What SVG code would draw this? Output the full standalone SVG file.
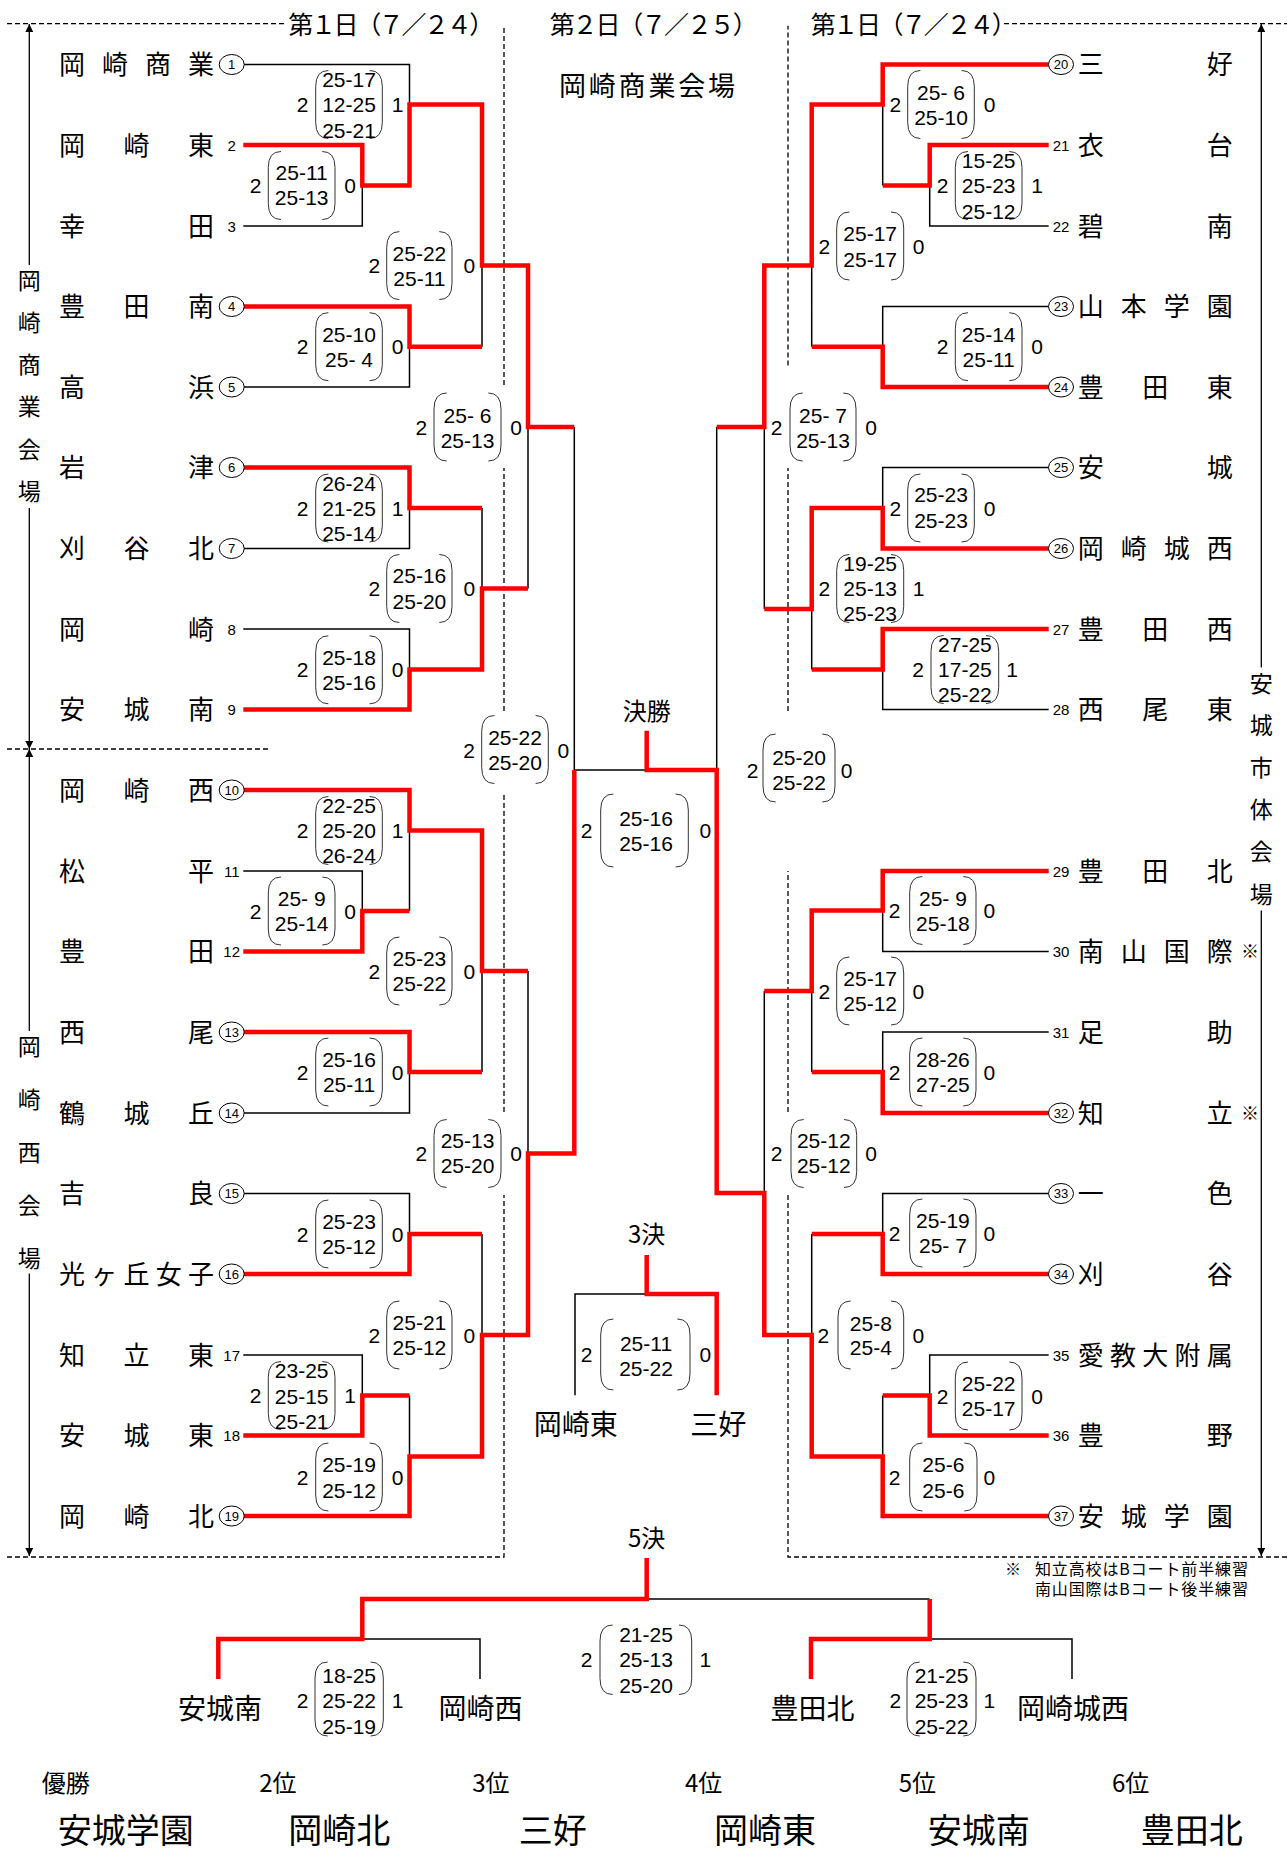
<svg xmlns="http://www.w3.org/2000/svg" width="1287" height="1856" viewBox="0 0 1287 1856">
<defs>
<style>
.bk{fill:none;stroke:#000;stroke-width:1.5}
.rd{fill:none;stroke:#ff0000;stroke-width:4.5;stroke-linejoin:miter}
.ds{fill:none;stroke:#000;stroke-width:1.3;stroke-dasharray:5 3}
.ax{fill:none;stroke:#000;stroke-width:1.3}
.pr{fill:none;stroke:#333;stroke-width:1}
.jp{font-family:"Noto Sans CJK JP","Noto Sans CJK SC",sans-serif;fill:#000}
.nm{font-size:26px;dominant-baseline:central}
.vt{font-size:23px;text-anchor:middle;dominant-baseline:central}
.ti{font-size:25px;dominant-baseline:central}
.lb{font-size:24px;text-anchor:middle;dominant-baseline:central}
.fn{font-size:28px;text-anchor:middle;dominant-baseline:central}
.pl{font-size:24px;dominant-baseline:central}
.wn{font-size:34px;text-anchor:middle;dominant-baseline:central}
.nt{font-size:16px;dominant-baseline:central}
.st{font-family:"Liberation Sans",Arial,sans-serif;font-size:21px;text-anchor:middle;dominant-baseline:central;fill:#000}
.sd{font-family:"Liberation Sans",Arial,sans-serif;font-size:15px;text-anchor:middle;dominant-baseline:central;fill:#000}
.sc{font-size:13px}
.ov{fill:#fff;stroke:#000;stroke-width:1}
</style>
<marker id="ah" viewBox="0 0 10 10" refX="10" refY="5" markerWidth="9" markerHeight="8" markerUnits="userSpaceOnUse" orient="auto"><path d="M0,0 L10,5 L0,10 z" fill="#000"/></marker>
</defs>
<rect width="1287" height="1856" fill="#fff"/>

<g id="frame">
<path class="ds" d="M7,23.7 H287 M1004,23.7 H1287 M7,749 H268 M7,1557 H504 V1195 M504,1112 V792 M504,711 V468 M504,385 V25.7 M1287,1557 H788 V1195 M788,1112 V871 M788,711 V468 M788,365.6 V25.7"/>
<path class="ax" d="M29.3,265 V24" marker-end="url(#ah)"/>
<path class="ax" d="M29.3,508 V749" marker-end="url(#ah)"/>
<path class="ax" d="M29.3,1031 V749" marker-end="url(#ah)"/>
<path class="ax" d="M29.3,1273.6 V1556" marker-end="url(#ah)"/>
<path class="ax" d="M1261.3,667.4 V24" marker-end="url(#ah)"/>
<path class="ax" d="M1261.3,910.5 V1556" marker-end="url(#ah)"/>
<text class="jp vt"><tspan x="29.3" y="279.1">岡</tspan><tspan x="29.3" y="321.2">崎</tspan><tspan x="29.3" y="363.3">商</tspan><tspan x="29.3" y="405.4">業</tspan><tspan x="29.3" y="447.5">会</tspan><tspan x="29.3" y="489.6">場</tspan></text>
<text class="jp vt"><tspan x="29.3" y="1044.5">岡</tspan><tspan x="29.3" y="1097.7">崎</tspan><tspan x="29.3" y="1150.9">西</tspan><tspan x="29.3" y="1204.1">会</tspan><tspan x="29.3" y="1257.3">場</tspan></text>
<text class="jp vt"><tspan x="1261.3" y="681.5">安</tspan><tspan x="1261.3" y="723.7">城</tspan><tspan x="1261.3" y="765.9">市</tspan><tspan x="1261.3" y="808.1">体</tspan><tspan x="1261.3" y="850.3">会</tspan><tspan x="1261.3" y="892.5">場</tspan></text>
<text class="jp ti" x="288.3" y="22.7" textLength="206" lengthAdjust="spacing">第１日（７／２４）</text>
<text class="jp ti" x="549.7" y="22.7" textLength="208" lengthAdjust="spacing">第２日（７／２５）</text>
<text class="jp ti" x="810.7" y="22.7" textLength="206" lengthAdjust="spacing">第１日（７／２４）</text>
<text class="jp ti" x="559" y="84" style="font-size:27px" textLength="176" lengthAdjust="spacing">岡崎商業会場</text>
<text class="jp lb" x="646.7" y="709">決勝</text>
<text class="jp lb" x="646.7" y="1232">3決</text>
<text class="jp lb" x="646.7" y="1536.5">5決</text>
<text class="jp nt" x="1005" y="1568">※</text>
<text class="jp nt" x="1035" y="1568" textLength="213" lengthAdjust="spacing">知立高校はBコート前半練習</text>
<text class="jp nt" x="1035" y="1587.6" textLength="213" lengthAdjust="spacing">南山国際はBコート後半練習</text>
</g>

<g id="connectors">
<path class="bk" d="M243.3,226 H362.3 V185.5 M243.3,64.5 H409.5 V104.5 M243.3,387 H409.5 V346.7 M482,265.5 V346.7 M243.3,548.5 H409.5 V508 M243.3,629 H409.5 V669.5 M482,508 V588.5 M528,427 V588.5 M574.3,427 V770 H646.7 M243.3,871 H362.3 V911 M409.5,911 V830.5 M243.3,1113 H409.5 V1072 M482,1072 V971 M243.3,1193.5 H409.5 V1234 M243.3,1355 H362.3 V1395.5 M409.5,1395.5 V1456.5 M482,1234 V1335 M528,971 V1153.5"/>
<path class="bk" d="M1048.7,226 H929.7 V185.5 M882.7,185.5 V104.5 M1048.7,306.5 H882.7 V346.7 M811.7,265.5 V346.7 M1048.7,467.5 H882.7 V508 M1048.7,709.5 H882.7 V669.5 M811.7,609 V669.5 M764.3,427 V609 M716.7,427 V770 M1048.7,951.5 H882.7 V910.5 M1048.7,1032 H882.7 V1072 M811.7,1072 V991 M1048.7,1193.5 H882.7 V1234 M1048.7,1355 H929.7 V1395.5 M882.7,1395.5 V1456.5 M811.7,1234 V1335 M764.3,991 V1193"/>
<path class="bk" d="M575,1395.3 V1294 H646.7 M362.3,1639 H480 V1679 M646.7,1599 H929.7 M929.7,1639 H1072 V1679"/>
<path class="rd" d="M243.3,145 H362.3 V185.5 H409.5 V104.5 H482 V265.5 H528 V427 H574.3"/>
<path class="rd" d="M243.3,306.5 H409.5 V346.7 H482"/>
<path class="rd" d="M243.3,467.5 H409.5 V508 H482"/>
<path class="rd" d="M243.3,709.5 H409.5 V669.5 H482 V588.5 H528"/>
<path class="rd" d="M243.3,951.5 H362.3 V911 H409.5"/>
<path class="rd" d="M243.3,790 H409.5 V830.5 H482 V971 H528"/>
<path class="rd" d="M243.3,1032 H409.5 V1072 H482"/>
<path class="rd" d="M243.3,1274 H409.5 V1234 H482"/>
<path class="rd" d="M243.3,1435.5 H362.3 V1395.5 H409.5"/>
<path class="rd" d="M243.3,1516 H409.5 V1456.5 H482 V1335 H528 V1153.5 H574.3 V770"/>
<path class="rd" d="M646.7,730.7 V770 H716.7 V1193 H764.3 V1335 H811.7 V1456.5 H882.7 V1516 H1048.7"/>
<path class="rd" d="M1048.7,64.5 H882.7 V104.5 H811.7 V265.5 H764.3 V427 H716.7"/>
<path class="rd" d="M1048.7,145 H929.7 V185.5 H882.7"/>
<path class="rd" d="M1048.7,387 H882.7 V346.7 H811.7"/>
<path class="rd" d="M1048.7,548.5 H882.7 V508 H811.7 V609 H764.3"/>
<path class="rd" d="M1048.7,629 H882.7 V669.5 H811.7"/>
<path class="rd" d="M1048.7,871 H882.7 V910.5 H811.7 V991 H764.3"/>
<path class="rd" d="M1048.7,1113 H882.7 V1072 H811.7"/>
<path class="rd" d="M1048.7,1274 H882.7 V1234 H811.7"/>
<path class="rd" d="M1048.7,1435.5 H929.7 V1395.5 H882.7"/>
<path class="rd" d="M646.7,1255 V1294 H716.7 V1395.3"/>
<path class="rd" d="M646.7,1558 V1599 H362.3 V1639 H218.3 V1679"/>
<path class="rd" d="M929.7,1599 V1639 H811 V1679"/>
</g>

<g id="teams-left">
<g id="team-1"><text class="jp nm" x="59" y="62.5" textLength="155" lengthAdjust="spacing">岡崎商業</text><ellipse class="ov" cx="231.7" cy="64.5" rx="12.5" ry="10"/><text class="sd sc" x="231.7" y="64.5">1</text></g>
<g id="team-2"><text class="jp nm" x="59" y="143" textLength="155" lengthAdjust="spacing">岡崎東</text><text class="sd" x="231.7" y="145">2</text></g>
<g id="team-3"><text class="jp nm" x="59" y="224" textLength="155" lengthAdjust="spacing">幸田</text><text class="sd" x="231.7" y="226">3</text></g>
<g id="team-4"><text class="jp nm" x="59" y="304.5" textLength="155" lengthAdjust="spacing">豊田南</text><ellipse class="ov" cx="231.7" cy="306.5" rx="12.5" ry="10"/><text class="sd sc" x="231.7" y="306.5">4</text></g>
<g id="team-5"><text class="jp nm" x="59" y="385" textLength="155" lengthAdjust="spacing">高浜</text><ellipse class="ov" cx="231.7" cy="387" rx="12.5" ry="10"/><text class="sd sc" x="231.7" y="387">5</text></g>
<g id="team-6"><text class="jp nm" x="59" y="465.5" textLength="155" lengthAdjust="spacing">岩津</text><ellipse class="ov" cx="231.7" cy="467.5" rx="12.5" ry="10"/><text class="sd sc" x="231.7" y="467.5">6</text></g>
<g id="team-7"><text class="jp nm" x="59" y="546.5" textLength="155" lengthAdjust="spacing">刈谷北</text><ellipse class="ov" cx="231.7" cy="548.5" rx="12.5" ry="10"/><text class="sd sc" x="231.7" y="548.5">7</text></g>
<g id="team-8"><text class="jp nm" x="59" y="627" textLength="155" lengthAdjust="spacing">岡崎</text><text class="sd" x="231.7" y="629">8</text></g>
<g id="team-9"><text class="jp nm" x="59" y="707.5" textLength="155" lengthAdjust="spacing">安城南</text><text class="sd" x="231.7" y="709.5">9</text></g>
<g id="team-10"><text class="jp nm" x="59" y="788" textLength="155" lengthAdjust="spacing">岡崎西</text><ellipse class="ov" cx="231.7" cy="790" rx="12.5" ry="10"/><text class="sd sc" x="231.7" y="790">10</text></g>
<g id="team-11"><text class="jp nm" x="59" y="869" textLength="155" lengthAdjust="spacing">松平</text><text class="sd" x="231.7" y="871">11</text></g>
<g id="team-12"><text class="jp nm" x="59" y="949.5" textLength="155" lengthAdjust="spacing">豊田</text><text class="sd" x="231.7" y="951.5">12</text></g>
<g id="team-13"><text class="jp nm" x="59" y="1030" textLength="155" lengthAdjust="spacing">西尾</text><ellipse class="ov" cx="231.7" cy="1032" rx="12.5" ry="10"/><text class="sd sc" x="231.7" y="1032">13</text></g>
<g id="team-14"><text class="jp nm" x="59" y="1111" textLength="155" lengthAdjust="spacing">鶴城丘</text><ellipse class="ov" cx="231.7" cy="1113" rx="12.5" ry="10"/><text class="sd sc" x="231.7" y="1113">14</text></g>
<g id="team-15"><text class="jp nm" x="59" y="1191.5" textLength="155" lengthAdjust="spacing">吉良</text><ellipse class="ov" cx="231.7" cy="1193.5" rx="12.5" ry="10"/><text class="sd sc" x="231.7" y="1193.5">15</text></g>
<g id="team-16"><text class="jp nm" x="59" y="1272" textLength="155" lengthAdjust="spacing">光ヶ丘女子</text><ellipse class="ov" cx="231.7" cy="1274" rx="12.5" ry="10"/><text class="sd sc" x="231.7" y="1274">16</text></g>
<g id="team-17"><text class="jp nm" x="59" y="1353" textLength="155" lengthAdjust="spacing">知立東</text><text class="sd" x="231.7" y="1355">17</text></g>
<g id="team-18"><text class="jp nm" x="59" y="1433.5" textLength="155" lengthAdjust="spacing">安城東</text><text class="sd" x="231.7" y="1435.5">18</text></g>
<g id="team-19"><text class="jp nm" x="59" y="1514" textLength="155" lengthAdjust="spacing">岡崎北</text><ellipse class="ov" cx="231.7" cy="1516" rx="12.5" ry="10"/><text class="sd sc" x="231.7" y="1516">19</text></g>
</g>

<g id="teams-right">
<g id="team-20"><ellipse class="ov" cx="1061" cy="64.5" rx="12.5" ry="10"/><text class="sd sc" x="1061" y="64.5">20</text><text class="jp nm" x="1077.7" y="62.5" textLength="155" lengthAdjust="spacing">三好</text></g>
<g id="team-21"><text class="sd" x="1061" y="145">21</text><text class="jp nm" x="1077.7" y="143" textLength="155" lengthAdjust="spacing">衣台</text></g>
<g id="team-22"><text class="sd" x="1061" y="226">22</text><text class="jp nm" x="1077.7" y="224" textLength="155" lengthAdjust="spacing">碧南</text></g>
<g id="team-23"><ellipse class="ov" cx="1061" cy="306.5" rx="12.5" ry="10"/><text class="sd sc" x="1061" y="306.5">23</text><text class="jp nm" x="1077.7" y="304.5" textLength="155" lengthAdjust="spacing">山本学園</text></g>
<g id="team-24"><ellipse class="ov" cx="1061" cy="387" rx="12.5" ry="10"/><text class="sd sc" x="1061" y="387">24</text><text class="jp nm" x="1077.7" y="385" textLength="155" lengthAdjust="spacing">豊田東</text></g>
<g id="team-25"><ellipse class="ov" cx="1061" cy="467.5" rx="12.5" ry="10"/><text class="sd sc" x="1061" y="467.5">25</text><text class="jp nm" x="1077.7" y="465.5" textLength="155" lengthAdjust="spacing">安城</text></g>
<g id="team-26"><ellipse class="ov" cx="1061" cy="548.5" rx="12.5" ry="10"/><text class="sd sc" x="1061" y="548.5">26</text><text class="jp nm" x="1077.7" y="546.5" textLength="155" lengthAdjust="spacing">岡崎城西</text></g>
<g id="team-27"><text class="sd" x="1061" y="629">27</text><text class="jp nm" x="1077.7" y="627" textLength="155" lengthAdjust="spacing">豊田西</text></g>
<g id="team-28"><text class="sd" x="1061" y="709.5">28</text><text class="jp nm" x="1077.7" y="707.5" textLength="155" lengthAdjust="spacing">西尾東</text></g>
<g id="team-29"><text class="sd" x="1061" y="871">29</text><text class="jp nm" x="1077.7" y="869" textLength="155" lengthAdjust="spacing">豊田北</text></g>
<g id="team-30"><text class="sd" x="1061" y="951.5">30</text><text class="jp nm" x="1077.7" y="949.5" textLength="155" lengthAdjust="spacing">南山国際</text><text class="jp" x="1250" y="950" style="font-size:18px;text-anchor:middle;dominant-baseline:central">※</text></g>
<g id="team-31"><text class="sd" x="1061" y="1032">31</text><text class="jp nm" x="1077.7" y="1030" textLength="155" lengthAdjust="spacing">足助</text></g>
<g id="team-32"><ellipse class="ov" cx="1061" cy="1113" rx="12.5" ry="10"/><text class="sd sc" x="1061" y="1113">32</text><text class="jp nm" x="1077.7" y="1111" textLength="155" lengthAdjust="spacing">知立</text><text class="jp" x="1250" y="1111.5" style="font-size:18px;text-anchor:middle;dominant-baseline:central">※</text></g>
<g id="team-33"><ellipse class="ov" cx="1061" cy="1193.5" rx="12.5" ry="10"/><text class="sd sc" x="1061" y="1193.5">33</text><text class="jp nm" x="1077.7" y="1191.5" textLength="155" lengthAdjust="spacing">一色</text></g>
<g id="team-34"><ellipse class="ov" cx="1061" cy="1274" rx="12.5" ry="10"/><text class="sd sc" x="1061" y="1274">34</text><text class="jp nm" x="1077.7" y="1272" textLength="155" lengthAdjust="spacing">刈谷</text></g>
<g id="team-35"><text class="sd" x="1061" y="1355">35</text><text class="jp nm" x="1077.7" y="1353" textLength="155" lengthAdjust="spacing">愛教大附属</text></g>
<g id="team-36"><text class="sd" x="1061" y="1435.5">36</text><text class="jp nm" x="1077.7" y="1433.5" textLength="155" lengthAdjust="spacing">豊野</text></g>
<g id="team-37"><ellipse class="ov" cx="1061" cy="1516" rx="12.5" ry="10"/><text class="sd sc" x="1061" y="1516">37</text><text class="jp nm" x="1077.7" y="1514" textLength="155" lengthAdjust="spacing">安城学園</text></g>
</g>

<g id="scores">
<g id="score-m1"><text class="st" x="255.7" y="185.5">2</text><path class="pr" d="M281,151.5 Q268.3,151.5 268.3,167.5 V203.5 Q268.3,219.5 281,219.5 M322.3,151.5 Q335,151.5 335,167.5 V203.5 Q335,219.5 322.3,219.5"/><text class="st" x="301.7" y="172.7">25-11</text><text class="st" x="301.7" y="197.6">25-13</text><text class="st" x="350" y="185.5">0</text></g>
<g id="score-m2"><text class="st" x="302.7" y="104.5">2</text><path class="pr" d="M328.4,70.5 Q315.7,70.5 315.7,86.5 V122.5 Q315.7,138.5 328.4,138.5 M369.6,70.5 Q382.3,70.5 382.3,86.5 V122.5 Q382.3,138.5 369.6,138.5"/><text class="st" x="349" y="79">25-17</text><text class="st" x="349" y="104.5">12-25</text><text class="st" x="349" y="130">25-21</text><text class="st" x="397.7" y="104.5">1</text></g>
<g id="score-m3"><text class="st" x="302.7" y="346.7">2</text><path class="pr" d="M328.4,312.7 Q315.7,312.7 315.7,328.7 V364.7 Q315.7,380.7 328.4,380.7 M369.6,312.7 Q382.3,312.7 382.3,328.7 V364.7 Q382.3,380.7 369.6,380.7"/><text class="st" x="349" y="334">25-10</text><text class="st" x="349" y="359">25- 4</text><text class="st" x="397.7" y="346.7">0</text></g>
<g id="score-m4"><text class="st" x="374.3" y="265.6">2</text><path class="pr" d="M399.4,231.6 Q386.7,231.6 386.7,247.6 V283.6 Q386.7,299.6 399.4,299.6 M439.3,231.6 Q452,231.6 452,247.6 V283.6 Q452,299.6 439.3,299.6"/><text class="st" x="419.4" y="253">25-22</text><text class="st" x="419.4" y="278.5">25-11</text><text class="st" x="469.3" y="265.6">0</text></g>
<g id="score-m5"><text class="st" x="302.7" y="508">2</text><path class="pr" d="M328.4,474 Q315.7,474 315.7,490 V526 Q315.7,542 328.4,542 M369.6,474 Q382.3,474 382.3,490 V526 Q382.3,542 369.6,542"/><text class="st" x="349" y="483">26-24</text><text class="st" x="349" y="508">21-25</text><text class="st" x="349" y="533">25-14</text><text class="st" x="397.7" y="508">1</text></g>
<g id="score-m6"><text class="st" x="302.7" y="669.8">2</text><path class="pr" d="M328.4,635.8 Q315.7,635.8 315.7,651.8 V687.8 Q315.7,703.8 328.4,703.8 M369.6,635.8 Q382.3,635.8 382.3,651.8 V687.8 Q382.3,703.8 369.6,703.8"/><text class="st" x="349" y="657.5">25-18</text><text class="st" x="349" y="682.5">25-16</text><text class="st" x="397.7" y="669.8">0</text></g>
<g id="score-m7"><text class="st" x="374.3" y="588.5">2</text><path class="pr" d="M399.4,554.5 Q386.7,554.5 386.7,570.5 V606.5 Q386.7,622.5 399.4,622.5 M439.3,554.5 Q452,554.5 452,570.5 V606.5 Q452,622.5 439.3,622.5"/><text class="st" x="419.4" y="575.5">25-16</text><text class="st" x="419.4" y="601">25-20</text><text class="st" x="469.3" y="588.5">0</text></g>
<g id="score-m8"><text class="st" x="421.4" y="427">2</text><path class="pr" d="M446.7,393 Q434,393 434,409 V445 Q434,461 446.7,461 M488.3,393 Q501,393 501,409 V445 Q501,461 488.3,461"/><text class="st" x="467.5" y="415">25- 6</text><text class="st" x="467.5" y="440">25-13</text><text class="st" x="516" y="427">0</text></g>
<g id="score-semi-left"><text class="st" x="469" y="750">2</text><path class="pr" d="M494.4,715.5 Q481.7,715.5 481.7,731.5 V767.5 Q481.7,783.5 494.4,783.5 M535.6,715.5 Q548.3,715.5 548.3,731.5 V767.5 Q548.3,783.5 535.6,783.5"/><text class="st" x="515" y="737.5">25-22</text><text class="st" x="515" y="762">25-20</text><text class="st" x="563.3" y="750">0</text></g>
<g id="score-m9"><text class="st" x="255.7" y="911">2</text><path class="pr" d="M281,877 Q268.3,877 268.3,893 V929 Q268.3,945 281,945 M322.3,877 Q335,877 335,893 V929 Q335,945 322.3,945"/><text class="st" x="301.7" y="898.7">25- 9</text><text class="st" x="301.7" y="923.6">25-14</text><text class="st" x="350" y="911">0</text></g>
<g id="score-m10"><text class="st" x="302.7" y="830.5">2</text><path class="pr" d="M328.4,796.5 Q315.7,796.5 315.7,812.5 V848.5 Q315.7,864.5 328.4,864.5 M369.6,796.5 Q382.3,796.5 382.3,812.5 V848.5 Q382.3,864.5 369.6,864.5"/><text class="st" x="349" y="805.8">22-25</text><text class="st" x="349" y="830.7">25-20</text><text class="st" x="349" y="855.6">26-24</text><text class="st" x="397.7" y="830.5">1</text></g>
<g id="score-m11"><text class="st" x="302.7" y="1072">2</text><path class="pr" d="M328.4,1038 Q315.7,1038 315.7,1054 V1090 Q315.7,1106 328.4,1106 M369.6,1038 Q382.3,1038 382.3,1054 V1090 Q382.3,1106 369.6,1106"/><text class="st" x="349" y="1059">25-16</text><text class="st" x="349" y="1084">25-11</text><text class="st" x="397.7" y="1072">0</text></g>
<g id="score-m12"><text class="st" x="374.3" y="971">2</text><path class="pr" d="M399.4,937 Q386.7,937 386.7,953 V989 Q386.7,1005 399.4,1005 M439.3,937 Q452,937 452,953 V989 Q452,1005 439.3,1005"/><text class="st" x="419.4" y="958.5">25-23</text><text class="st" x="419.4" y="983.5">25-22</text><text class="st" x="469.3" y="971">0</text></g>
<g id="score-m13"><text class="st" x="302.7" y="1234">2</text><path class="pr" d="M328.4,1200 Q315.7,1200 315.7,1216 V1252 Q315.7,1268 328.4,1268 M369.6,1200 Q382.3,1200 382.3,1216 V1252 Q382.3,1268 369.6,1268"/><text class="st" x="349" y="1221">25-23</text><text class="st" x="349" y="1246">25-12</text><text class="st" x="397.7" y="1234">0</text></g>
<g id="score-m14"><text class="st" x="255.7" y="1395.5">2</text><path class="pr" d="M281,1361.5 Q268.3,1361.5 268.3,1377.5 V1413.5 Q268.3,1429.5 281,1429.5 M322.3,1361.5 Q335,1361.5 335,1377.5 V1413.5 Q335,1429.5 322.3,1429.5"/><text class="st" x="301.7" y="1370.5">23-25</text><text class="st" x="301.7" y="1396">25-15</text><text class="st" x="301.7" y="1421.5">25-21</text><text class="st" x="350" y="1395.5">1</text></g>
<g id="score-m15"><text class="st" x="302.7" y="1477">2</text><path class="pr" d="M328.4,1443 Q315.7,1443 315.7,1459 V1495 Q315.7,1511 328.4,1511 M369.6,1443 Q382.3,1443 382.3,1459 V1495 Q382.3,1511 369.6,1511"/><text class="st" x="349" y="1464.5">25-19</text><text class="st" x="349" y="1490">25-12</text><text class="st" x="397.7" y="1477">0</text></g>
<g id="score-m16"><text class="st" x="374.3" y="1335">2</text><path class="pr" d="M399.4,1301 Q386.7,1301 386.7,1317 V1353 Q386.7,1369 399.4,1369 M439.3,1301 Q452,1301 452,1317 V1353 Q452,1369 439.3,1369"/><text class="st" x="419.4" y="1322">25-21</text><text class="st" x="419.4" y="1347">25-12</text><text class="st" x="469.3" y="1335">0</text></g>
<g id="score-m17"><text class="st" x="421.4" y="1153.5">2</text><path class="pr" d="M446.7,1119.5 Q434,1119.5 434,1135.5 V1171.5 Q434,1187.5 446.7,1187.5 M488.3,1119.5 Q501,1119.5 501,1135.5 V1171.5 Q501,1187.5 488.3,1187.5"/><text class="st" x="467.5" y="1140">25-13</text><text class="st" x="467.5" y="1165.5">25-20</text><text class="st" x="516" y="1153.5">0</text></g>
<g id="score-final"><text class="st" x="586.7" y="830.5">2</text><path class="pr" d="M613.4,794 Q600.7,794 600.7,810 V851 Q600.7,867 613.4,867 M675.6,794 Q688.3,794 688.3,810 V851 Q688.3,867 675.6,867"/><text class="st" x="646" y="818">25-16</text><text class="st" x="646" y="843">25-16</text><text class="st" x="705.3" y="830.5">0</text></g>

<g id="score-n1"><text class="st" x="942.7" y="185.5">2</text><path class="pr" d="M968,151.5 Q955.3,151.5 955.3,167.5 V203.5 Q955.3,219.5 968,219.5 M1009.3,151.5 Q1022,151.5 1022,167.5 V203.5 Q1022,219.5 1009.3,219.5"/><text class="st" x="988.7" y="160">15-25</text><text class="st" x="988.7" y="185.5">25-23</text><text class="st" x="988.7" y="211">25-12</text><text class="st" x="1037" y="185.5">1</text></g>
<g id="score-n2"><text class="st" x="895.3" y="104.5">2</text><path class="pr" d="M920.4,70.5 Q907.7,70.5 907.7,86.5 V122.5 Q907.7,138.5 920.4,138.5 M961.6,70.5 Q974.3,70.5 974.3,86.5 V122.5 Q974.3,138.5 961.6,138.5"/><text class="st" x="941" y="92">25- 6</text><text class="st" x="941" y="117.4">25-10</text><text class="st" x="989.7" y="104.5">0</text></g>
<g id="score-n3"><text class="st" x="942.7" y="346.7">2</text><path class="pr" d="M968,312.7 Q955.3,312.7 955.3,328.7 V364.7 Q955.3,380.7 968,380.7 M1009.3,312.7 Q1022,312.7 1022,328.7 V364.7 Q1022,380.7 1009.3,380.7"/><text class="st" x="988.7" y="334">25-14</text><text class="st" x="988.7" y="359">25-11</text><text class="st" x="1037" y="346.7">0</text></g>
<g id="score-n4"><text class="st" x="824.3" y="246">2</text><path class="pr" d="M849.4,212 Q836.7,212 836.7,228 V264 Q836.7,280 849.4,280 M891,212 Q903.7,212 903.7,228 V264 Q903.7,280 891,280"/><text class="st" x="870.2" y="233">25-17</text><text class="st" x="870.2" y="259">25-17</text><text class="st" x="918.7" y="246">0</text></g>
<g id="score-n5"><text class="st" x="895.3" y="508">2</text><path class="pr" d="M920.4,474 Q907.7,474 907.7,490 V526 Q907.7,542 920.4,542 M961.6,474 Q974.3,474 974.3,490 V526 Q974.3,542 961.6,542"/><text class="st" x="941" y="494.5">25-23</text><text class="st" x="941" y="520">25-23</text><text class="st" x="989.7" y="508">0</text></g>
<g id="score-n6"><text class="st" x="918" y="669.5">2</text><path class="pr" d="M943.7,635.5 Q931,635.5 931,651.5 V687.5 Q931,703.5 943.7,703.5 M986,635.5 Q998.7,635.5 998.7,651.5 V687.5 Q998.7,703.5 986,703.5"/><text class="st" x="964.9" y="644.5">27-25</text><text class="st" x="964.9" y="669.5">17-25</text><text class="st" x="964.9" y="694.5">25-22</text><text class="st" x="1012" y="669.5">1</text></g>
<g id="score-n7"><text class="st" x="824.3" y="588.5">2</text><path class="pr" d="M849.4,554.5 Q836.7,554.5 836.7,570.5 V606.5 Q836.7,622.5 849.4,622.5 M891,554.5 Q903.7,554.5 903.7,570.5 V606.5 Q903.7,622.5 891,622.5"/><text class="st" x="870.2" y="563.5">19-25</text><text class="st" x="870.2" y="588.5">25-13</text><text class="st" x="870.2" y="613.5">25-23</text><text class="st" x="918.7" y="588.5">1</text></g>
<g id="score-n8"><text class="st" x="776.7" y="427">2</text><path class="pr" d="M802.7,393 Q790,393 790,409 V445 Q790,461 802.7,461 M843.3,393 Q856,393 856,409 V445 Q856,461 843.3,461"/><text class="st" x="823" y="415">25- 7</text><text class="st" x="823" y="440">25-13</text><text class="st" x="871" y="427">0</text></g>
<g id="score-semi-right"><text class="st" x="752.7" y="770">2</text><path class="pr" d="M775.7,734 Q763,734 763,750 V786 Q763,802 775.7,802 M822.3,734 Q835,734 835,750 V786 Q835,802 822.3,802"/><text class="st" x="799" y="757.5">25-20</text><text class="st" x="799" y="782">25-22</text><text class="st" x="846.7" y="770">0</text></g>
<g id="score-n9"><text class="st" x="894.7" y="910.5">2</text><path class="pr" d="M922.4,876.5 Q909.7,876.5 909.7,892.5 V928.5 Q909.7,944.5 922.4,944.5 M963.3,876.5 Q976,876.5 976,892.5 V928.5 Q976,944.5 963.3,944.5"/><text class="st" x="942.9" y="898.7">25- 9</text><text class="st" x="942.9" y="923.6">25-18</text><text class="st" x="989.3" y="910.5">0</text></g>
<g id="score-n10"><text class="st" x="894.7" y="1072">2</text><path class="pr" d="M922.4,1038 Q909.7,1038 909.7,1054 V1090 Q909.7,1106 922.4,1106 M963.3,1038 Q976,1038 976,1054 V1090 Q976,1106 963.3,1106"/><text class="st" x="942.9" y="1059">28-26</text><text class="st" x="942.9" y="1084">27-25</text><text class="st" x="989.3" y="1072">0</text></g>
<g id="score-n11"><text class="st" x="824.3" y="991">2</text><path class="pr" d="M849.4,957 Q836.7,957 836.7,973 V1009 Q836.7,1025 849.4,1025 M891,957 Q903.7,957 903.7,973 V1009 Q903.7,1025 891,1025"/><text class="st" x="870.2" y="978">25-17</text><text class="st" x="870.2" y="1003.5">25-12</text><text class="st" x="918.3" y="991">0</text></g>
<g id="score-n12"><text class="st" x="894.7" y="1233">2</text><path class="pr" d="M922.4,1199 Q909.7,1199 909.7,1215 V1251 Q909.7,1267 922.4,1267 M963.3,1199 Q976,1199 976,1215 V1251 Q976,1267 963.3,1267"/><text class="st" x="942.9" y="1220.5">25-19</text><text class="st" x="942.9" y="1245.5">25- 7</text><text class="st" x="989.3" y="1233">0</text></g>
<g id="score-n13"><text class="st" x="942.7" y="1396">2</text><path class="pr" d="M968,1362 Q955.3,1362 955.3,1378 V1414 Q955.3,1430 968,1430 M1009.3,1362 Q1022,1362 1022,1378 V1414 Q1022,1430 1009.3,1430"/><text class="st" x="988.7" y="1383.5">25-22</text><text class="st" x="988.7" y="1408.5">25-17</text><text class="st" x="1037" y="1396">0</text></g>
<g id="score-n14"><text class="st" x="894.7" y="1477">2</text><path class="pr" d="M922.4,1443 Q909.7,1443 909.7,1459 V1495 Q909.7,1511 922.4,1511 M964.3,1443 Q977,1443 977,1459 V1495 Q977,1511 964.3,1511"/><text class="st" x="943.3" y="1464.5">25-6</text><text class="st" x="943.3" y="1490">25-6</text><text class="st" x="989.3" y="1477">0</text></g>
<g id="score-n15"><text class="st" x="823.3" y="1335">2</text><path class="pr" d="M850.7,1301 Q838,1301 838,1317 V1353 Q838,1369 850.7,1369 M891,1301 Q903.7,1301 903.7,1317 V1353 Q903.7,1369 891,1369"/><text class="st" x="870.8" y="1323">25-8</text><text class="st" x="870.8" y="1347.5">25-4</text><text class="st" x="918.3" y="1335">0</text></g>
<g id="score-n16"><text class="st" x="776.7" y="1153.5">2</text><path class="pr" d="M803.7,1119.5 Q791,1119.5 791,1135.5 V1171.5 Q791,1187.5 803.7,1187.5 M844,1119.5 Q856.7,1119.5 856.7,1135.5 V1171.5 Q856.7,1187.5 844,1187.5"/><text class="st" x="823.8" y="1140">25-12</text><text class="st" x="823.8" y="1165.5">25-12</text><text class="st" x="871" y="1153.5">0</text></g>
<g id="score-3rd"><text class="st" x="586.7" y="1354.6">2</text><path class="pr" d="M613.4,1319 Q600.7,1319 600.7,1335 V1374 Q600.7,1390 613.4,1390 M677.3,1319 Q690,1319 690,1335 V1374 Q690,1390 677.3,1390"/><text class="st" x="646" y="1343.6">25-11</text><text class="st" x="646" y="1368.5">25-22</text><text class="st" x="705.3" y="1354.6">0</text></g>
<g id="score-5th"><text class="st" x="586.7" y="1659.8">2</text><path class="pr" d="M612.7,1625 Q600,1625 600,1641 V1678.5 Q600,1694.5 612.7,1694.5 M679,1625 Q691.7,1625 691.7,1641 V1678.5 Q691.7,1694.5 679,1694.5"/><text class="st" x="646" y="1634.5">21-25</text><text class="st" x="646" y="1659.8">25-13</text><text class="st" x="646" y="1685">25-20</text><text class="st" x="705.3" y="1659.8">1</text></g>
<g id="score-5th-left"><text class="st" x="302.7" y="1700.5">2</text><path class="pr" d="M327.7,1662 Q315,1662 315,1678 V1720 Q315,1736 327.7,1736 M370.6,1662 Q383.3,1662 383.3,1678 V1720 Q383.3,1736 370.6,1736"/><text class="st" x="349.2" y="1675">18-25</text><text class="st" x="349.2" y="1700.5">25-22</text><text class="st" x="349.2" y="1726">25-19</text><text class="st" x="397.7" y="1700.5">1</text></g>
<g id="score-5th-right"><text class="st" x="895.3" y="1700.5">2</text><path class="pr" d="M919.7,1662 Q907,1662 907,1678 V1720 Q907,1736 919.7,1736 M963.3,1662 Q976,1662 976,1678 V1720 Q976,1736 963.3,1736"/><text class="st" x="941.5" y="1675">21-25</text><text class="st" x="941.5" y="1700.5">25-23</text><text class="st" x="941.5" y="1726">25-22</text><text class="st" x="989.3" y="1700.5">1</text></g>
</g>

<g id="placement-matches">
<g id="p3-left"><text class="jp fn" x="575.7" y="1423">岡崎東</text></g>
<g id="p3-right"><text class="jp fn" x="718.3" y="1423">三好</text></g>
<g id="p5-a"><text class="jp fn" x="220" y="1707">安城南</text></g>
<g id="p5-b"><text class="jp fn" x="480.5" y="1707">岡崎西</text></g>
<g id="p5-c"><text class="jp fn" x="812.5" y="1707">豊田北</text></g>
<g id="p5-d"><text class="jp fn" x="1073" y="1707">岡崎城西</text></g>
</g>

<g id="standings">
<g id="rank-1"><text class="jp pl" x="41.7" y="1781.5">優勝</text><text class="jp wn" x="125.8" y="1828">安城学園</text></g>
<g id="rank-2"><text class="jp pl" x="259.3" y="1781.5">2位</text><text class="jp wn" x="339.2" y="1828">岡崎北</text></g>
<g id="rank-3"><text class="jp pl" x="472.3" y="1781.5">3位</text><text class="jp wn" x="552.7" y="1828">三好</text></g>
<g id="rank-4"><text class="jp pl" x="685" y="1781.5">4位</text><text class="jp wn" x="765" y="1828">岡崎東</text></g>
<g id="rank-5"><text class="jp pl" x="898.7" y="1781.5">5位</text><text class="jp wn" x="978.7" y="1828">安城南</text></g>
<g id="rank-6"><text class="jp pl" x="1112" y="1781.5">6位</text><text class="jp wn" x="1191.7" y="1828">豊田北</text></g>
</g>
</svg>
